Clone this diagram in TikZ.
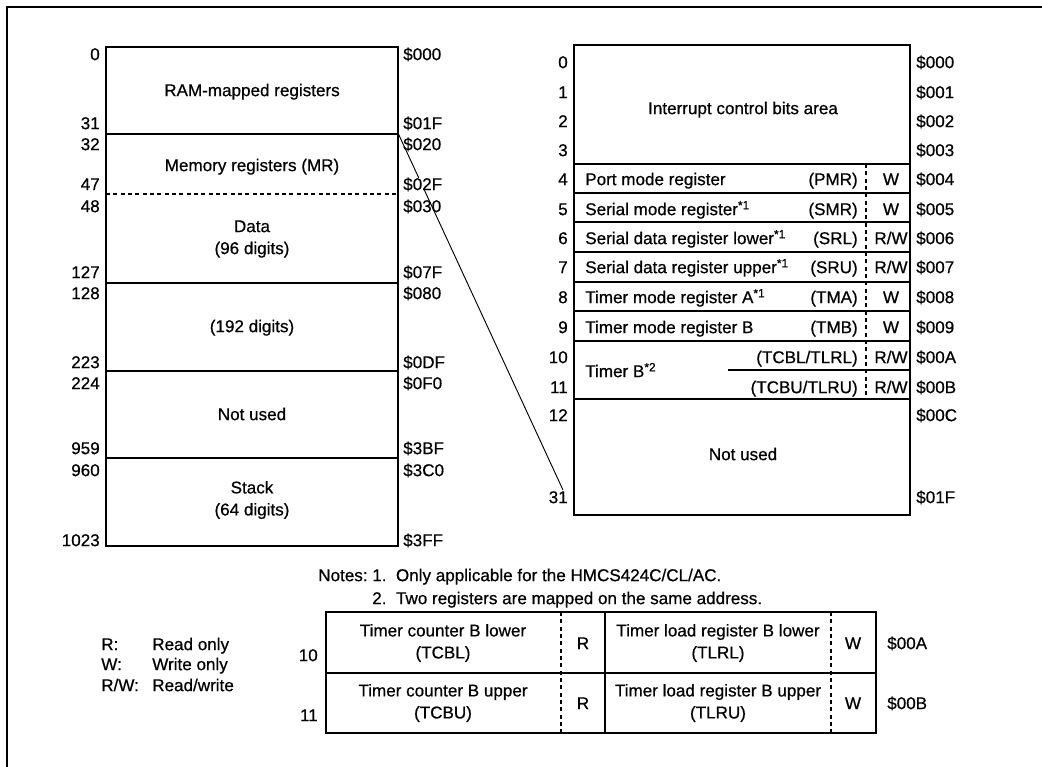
\documentclass[tikz,border=0pt]{standalone}
\usepackage{fontspec}
\setmainfont{Liberation Sans}[FakeBold=0.6]
\usetikzlibrary{positioning}

\begin{document}
\begin{tikzpicture}[
x=0.75pt,y=-0.75pt,
font=\fontsize{12.8}{16.5}\selectfont,
frame/.style={line width=1.1pt},
blk/.style={line width=1.3pt},
sep/.style={line width=0.8pt,dash pattern=on 3pt off 2.5pt},
lbl/.style={inner sep=0pt,text height=9.2pt,text depth=0pt},
cell/.style={inner sep=0pt,align=center},
link/.style={line width=0.7pt}
]
\useasboundingbox (0,0) rectangle (1042,767);
\draw[frame] (7,767) -- (7,7) -- (1042,7);

% RAM memory map
\draw[blk] (106,47) rectangle (398,546);
\foreach \y in {134,283,371,458} \draw[blk] (106,\y) -- (398,\y);
\draw[sep] (106,194) -- (398,194);
\node[lbl] (ram) at (252,90) {RAM-mapped registers};
\node[lbl] (mr) at (252,165) {Memory registers (MR)};
\node[cell] (data) at (252,239) {Data\\(96 digits)};
\node[lbl] (bank) at (252,326) {(192 digits)};
\node[lbl] (unused) at (252,414) {Not used};
\node[cell] (stack) at (252,500) {Stack\\(64 digits)};

\coordinate (mapsrc) at (398,133);
\coordinate (mapdst) at (563,490);
\draw[link] (mapsrc) -- (mapdst);

\foreach \y/\n/\a in {54/0/000,123/31/01F,144/32/020,206/48/030,272/127/07F,293/128/080,
  362/223/0DF,383/224/0F0,448/959/3BF,470/960/3C0,540/1023/3FF}{
  \node[lbl,anchor=east] (dec\n) at (100,\y) {\n};
  \node[lbl,anchor=west] (hex\a) at (403,\y) {\$\a};
}
\node[lbl,anchor=east] (dec47) at (100,184) {47};
\node[lbl,anchor=west,fill=white] (hex02F) at (403,184) {\$02F};

% RAM-mapped registers
\draw[blk] (574,45) rectangle (910,515);
\foreach \y in {164,193,222,252,282,311,341,399} \draw[blk] (574,\y) -- (910,\y);
\draw[line width=1pt] (728,370) -- (910,370);
\draw[sep] (866,164) -- (866,399);
\node[lbl] (icb) at (743,108) {Interrupt control bits area};
\node[lbl] (spare) at (743,454) {Not used};

\foreach \y/\n/\a in {62/0/000,92/1/001,121/2/002,150/3/003,179/4/004,209/5/005,238/6/006,
  267/7/007,297/8/008,327/9/009,357/10/00A,387/11/00B,415/12/00C,497/31/01F}{
  \node[lbl,anchor=east] (row\n) at (568,\y) {\n};
  \node[lbl,anchor=west] (adr\a) at (916,\y) {\$\a};
}
\foreach \y/\t/\s/\m in {179/{Port mode register}/PMR/W,
  209/{Serial mode register\textsuperscript{*1}}/SMR/W,
  238/{Serial data register lower\textsuperscript{*1}}/SRL/{R/W},
  267/{Serial data register upper\textsuperscript{*1}}/SRU/{R/W},
  297/{Timer mode register A\textsuperscript{*1}}/TMA/W,
  327/{Timer mode register B}/TMB/W}{
  \node[lbl,anchor=west] (reg\s) at (585,\y) {\t};
  \node[lbl,anchor=east] (abr\s) at (858,\y) {(\s)};
  \node[lbl] (acc\s) at (891,\y) {\m};
}
\node[lbl,anchor=west] (tmrb) at (585,371) {Timer B\textsuperscript{*2}};
\node[lbl,anchor=east] (abrTBL) at (858,357) {(TCBL/TLRL)};
\node[lbl] (accTBL) at (891,357) {R/W};
\node[lbl,anchor=east] (abrTBU) at (858,387) {(TCBU/TLRU)};
\node[lbl] (accTBU) at (891,387) {R/W};

% notes and legend
\node[lbl,anchor=west] (notes) at (318,575) {Notes:};
\node[lbl,anchor=west] (note1) at (372,575) {1.\ \ Only applicable for the HMCS424C/CL/AC.};
\node[lbl,anchor=west] (note2) at (372,598) {2.\ \ Two registers are mapped on the same address.};

\foreach \y/\k/\v in {644/R:/Read only,664/W:/Write only,685/{R/W:}/{Read/write}}{
  \node[lbl,anchor=west] (key\y) at (101,\y) {\k};
  \node[lbl,anchor=west] (val\y) at (152,\y) {\v};
}

% timer B detail
\draw[blk] (326,612) rectangle (876,733);
\draw[line width=0.9pt] (326,673) -- (876,673);
\draw[blk] (605,612) -- (605,733);
\draw[sep] (561,612) -- (561,733);
\draw[sep] (831,612) -- (831,733);
\node[lbl,anchor=east] (trow10) at (318,655) {10};
\node[lbl,anchor=east] (trow11) at (318,715) {11};
\node[cell] (tcbl) at (443,643) {Timer counter B lower\\(TCBL)};
\node[lbl] (rdl) at (583,643) {R};
\node[cell] (tlrl) at (718,643) {Timer load register B lower\\(TLRL)};
\node[lbl] (wrl) at (853,643) {W};
\node[lbl,anchor=west] (tadrA) at (887,643) {\$00A};
\node[cell] (tcbu) at (443,703) {Timer counter B upper\\(TCBU)};
\node[lbl] (rdu) at (583,703) {R};
\node[cell] (tlru) at (718,703) {Timer load register B upper\\(TLRU)};
\node[lbl] (wru) at (853,703) {W};
\node[lbl,anchor=west] (tadrB) at (887,703) {\$00B};
\end{tikzpicture}
\end{document}
